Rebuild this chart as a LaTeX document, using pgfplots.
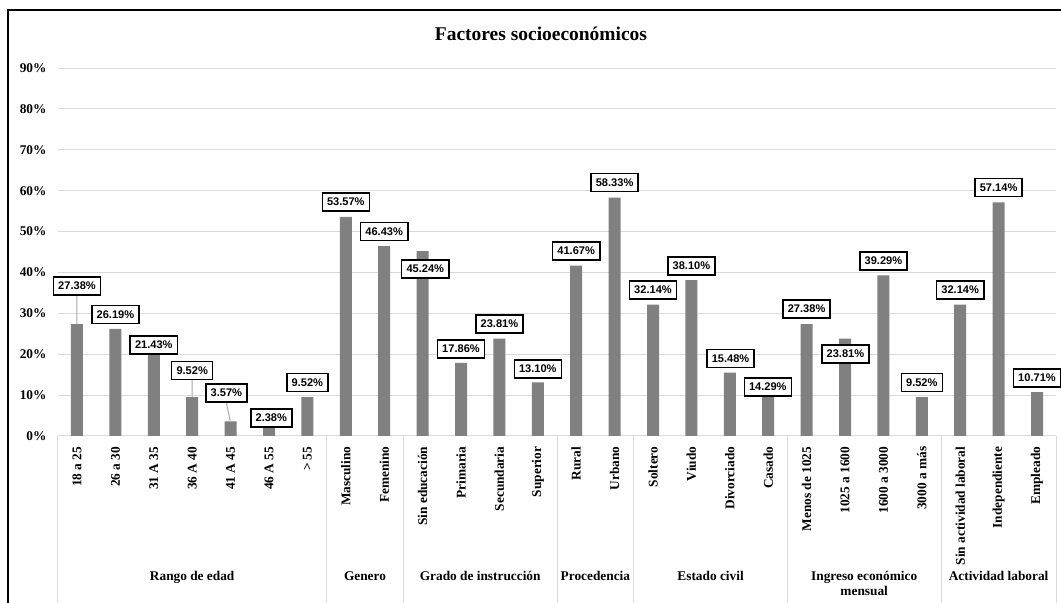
\documentclass[border=0pt]{standalone}
\usepackage{pgfplots}
\pgfplotsset{compat=1.18}
\usepackage{pgfplotstable}
\usepackage{fontspec}
\setmainfont{Liberation Serif}
\newfontfamily\arialfont{Liberation Sans}
\definecolor{barcol}{RGB}{128,128,128}
\definecolor{gridcol}{RGB}{217,217,217}
\definecolor{leadcol}{RGB}{166,166,166}

\pgfplotstableread{
x y lx ly lab
0 27.38 0 36.68 27.38
1 26.19 1 29.71 26.19
2 21.43 2 22.25 21.43
3 9.52 3 16.02 9.52
4 3.57 3.89 10.52 3.57
5 2.38 5.06 4.40 2.38
6 9.52 6 13.08 9.52
7 53.57 7 57.23 53.57
8 46.43 8 50.01 46.43
9 45.24 9.07 40.84 45.24
10 17.86 10 21.28 17.86
11 23.81 11 27.39 23.81
12 13.10 12 16.39 13.10
13 41.67 13 45.24 41.67
14 58.33 14 62.00 58.33
15 32.14 15 35.71 32.14
16 38.10 16 41.62 38.10
17 15.48 17.02 18.95 15.48
18 14.29 17.99 12.03 14.29
19 27.38 19 31.06 27.38
20 23.81 20.01 20.05 23.81
21 39.29 21 42.85 39.29
22 9.52 22 13.08 9.52
23 32.14 23 35.71 32.14
24 57.14 24 60.77 57.14
25 10.71 25 14.18 10.71
}\datatable

\begin{document}
\begin{tikzpicture}
\path[use as bounding box] (0,0) rectangle (795.75pt,452.25pt);
\draw[line width=1.1pt] (6pt,0) -- (6pt,444.75pt) -- (795.75pt,444.75pt);
\node[font=\bfseries\fontsize{14.6}{17}\selectfont, anchor=base] at (405.75pt,421.5pt) {Factores socioeconómicos};
\begin{axis}[
  at={(43.35pt,125.25pt)}, anchor=south west,
  scale only axis, width=748.8pt, height=276pt,
  xmin=-0.5, xmax=25.5, ymin=0, ymax=90,
  ytick={0,10,...,90},
  /pgf/number format/assume math mode=true,
  yticklabel={\pgfmathprintnumber{\tick}\%},
  xtick={0,...,25},
  xticklabels={18 a 25, 26 a 30, 31 A 35, 36 A 40, 41 A 45, 46 A 55, > 55,
    Masculino, Femenino, Sin educación, Primaria, Secundaria, Superior,
    Rural, Urbano, Soltero, Viudo, Divorciado, Casado,
    Menos de 1025, 1025 a 1600, 1600 a 3000, 3000 a más,
    Sin actividad laboral, Independiente, Empleado},
  every tick label/.append style={font=\bfseries\fontsize{10}{12}\selectfont},
  x tick label style={rotate=90, anchor=east, xshift=-4.5pt},
  y tick label style={xshift=-5pt},
  axis x line*=bottom, axis y line*=left,
  x axis line style={draw=gridcol, line width=0.75pt},
  y axis line style={draw=none},
  tick style={draw=none},
  ymajorgrids, major grid style={draw=gridcol, line width=0.75pt},
  clip=false,
]
\addplot[ybar, bar width=9pt, fill=barcol, draw=none] table[x=x,y=y]{\datatable};
\addplot[leadcol, line width=0.75pt, unbounded coords=jump] coordinates {(0,34.48) (0,27.38) (nan,nan) (3,13.82) (3,9.52) (nan,nan) (3.89,8.15) (3.99,3.67)};
\addplot[draw=none, mark=none, point meta=explicit symbolic,
  nodes near coords={\pgfplotspointmeta\%},
  every node near coord/.append style={anchor=center, draw=black, line width=1.1pt, fill=white,
    font=\arialfont\bfseries\fontsize{8.3}{10}\selectfont, inner xsep=3.6pt, inner ysep=0pt,
    minimum height=13.5pt, text=black}]
  table[x=lx,y=ly,meta=lab]{\datatable};
\foreach \s in {-0.5,6.5,8.5,12.5,14.5,18.5,22.5,25.5}{
  \edef\tmp{\noexpand\draw[gridcol, line width=0.75pt] (axis cs:\s,0) -- (axis cs:\s,-40.8);}\tmp
}
\begin{scope}[every node/.style={font=\bfseries\fontsize{10}{12}\selectfont, anchor=base}]
\node at (axis cs:3,-35.46) {Rango de edad};
\node at (axis cs:7.5,-35.46) {Genero};
\node at (axis cs:10.5,-35.46) {Grado de instrucción};
\node at (axis cs:13.5,-35.46) {Procedencia};
\node at (axis cs:16.5,-35.46) {Estado civil};
\node at (axis cs:20.5,-35.46) {Ingreso económico};
\node at (axis cs:20.5,-39.1) {mensual};
\node at (axis cs:24,-35.46) {Actividad laboral};
\end{scope}
\end{axis}
\end{tikzpicture}
\end{document}
